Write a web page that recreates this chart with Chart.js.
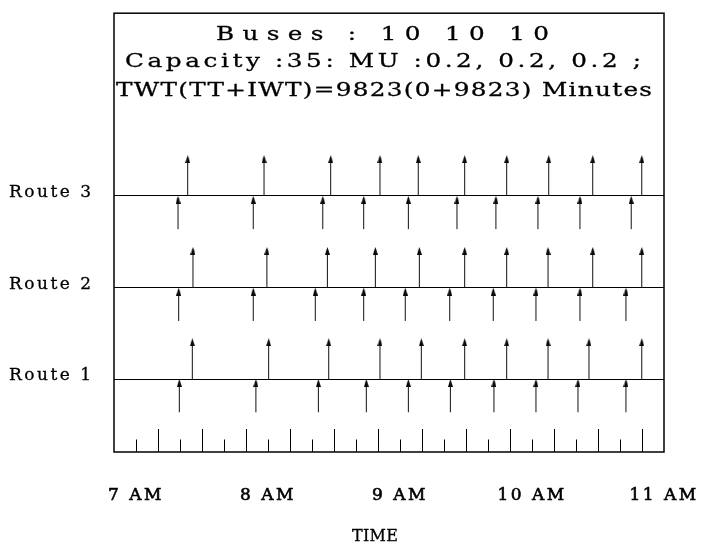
<!DOCTYPE html>
<html>
<head>
<meta charset="utf-8">
<script src="https://cdn.jsdelivr.net/npm/chart.js@4.4.1/dist/chart.umd.min.js"></script>
<style>
  html, body { margin: 0; padding: 0; background: #fff; }
</style>
</head>
<body>
<canvas id="chart" width="702" height="543"></canvas>
<script>
// time axis is in minutes after 7 AM
const hourLabels = ['7 AM', '8 AM', '9 AM', '10 AM', '11 AM'];
const tickMinutes = [0, 10, 20, 30, 40, 50, 60, 70, 80, 90, 100, 110, 120,
                     130, 140, 150, 160, 170, 180, 190, 200, 210, 220, 230, 240];
const routeNames = ['Route 1', 'Route 2', 'Route 3'];
const routeLevels = [73.5, 165.5, 258];
const titleLines = [
    'Buses : 10 10 10',
    'Capacity :35: MU :0.2, 0.2, 0.2 ;',
    'TWT(TT+IWT)=9823(0+9823) Minutes'
];

// arrows above each route line / arrows coming up from below it
const route1Above = [25.6, 60.3, 87.6, 110.9, 129.7, 149.4, 168.5, 187.3, 205.9, 229.9];
const route1Below = [19.7, 54.5, 82.9, 104.7, 123.8, 142.9, 162.7, 181.8, 200.9, 222.7];
const route2Above = [25.9, 59.5, 87.0, 108.8, 128.8, 149.4, 168.5, 187.3, 207.6, 229.9];
const route2Below = [19.4, 53.3, 81.5, 103.5, 122.4, 142.6, 162.4, 181.8, 201.8, 222.7];
const route3Above = [23.5, 58.2, 88.5, 110.9, 128.3, 149.4, 168.5, 187.6, 207.6, 229.9];
const route3Below = [19.1, 53.3, 84.9, 103.5, 123.8, 145.9, 163.6, 182.7, 201.8, 225.1];

const UP_LEN = 41;
const DOWN_LEN = 33.5;
const HEAD_H = 8;

// small narrow arrowhead used as point style
const head = document.createElement('canvas');
head.width = 5;
head.height = HEAD_H;
const hc = head.getContext('2d');
hc.fillStyle = '#000';
hc.beginPath();
hc.moveTo(2.5, 0);
hc.lineTo(5, HEAD_H);
hc.lineTo(0, HEAD_H);
hc.closePath();
hc.fill();

function stems(times, y0, y1) {
    return times.flatMap(t => [{ x: t, y: y0 }, { x: t, y: y1 }, { x: t, y: null }]);
}

const routes = [
    [route1Above, route1Below],
    [route2Above, route2Below],
    [route3Above, route3Below]
];

const datasets = [];
routes.forEach(([above, below], i) => {
    const base = routeLevels[i];
    datasets.push({
        data: stems(above, base, base + UP_LEN - 2).concat(stems(below, base - DOWN_LEN, base - 2)),
        borderColor: '#111',
        borderWidth: 1,
        pointRadius: 0,
        spanGaps: false
    });
    datasets.push({
        data: above.map(t => ({ x: t, y: base + UP_LEN - HEAD_H / 2 }))
            .concat(below.map(t => ({ x: t, y: base - HEAD_H / 2 }))),
        showLine: false,
        pointStyle: head,
        pointRadius: 3
    });
});

const serif = '"DejaVu Serif", serif';

// draws a line of text stretched a bit and spaced to span [left, right]
function fitText(ctx, text, left, right, baseline, size, stretch) {
    ctx.save();
    ctx.font = size + 'px ' + serif;
    ctx.letterSpacing = '0px';
    const w = ctx.measureText(text).width;
    const gap = ((right - left) / stretch - w) / (text.length - 1);
    ctx.letterSpacing = gap + 'px';
    ctx.textAlign = 'left';
    ctx.textBaseline = 'alphabetic';
    ctx.translate(left, baseline);
    ctx.scale(stretch, 1);
    ctx.lineWidth = 0.3;
    ctx.fillText(text, 0, 0);
    ctx.strokeText(text, 0, 0);
    ctx.restore();
}

const framePlugin = {
    id: 'frame',
    beforeDraw(chart) {
        chart.ctx.letterSpacing = '2.5px';
    },
    afterDatasetsDraw(chart) {
        const { ctx, chartArea, scales } = chart;
        const x = scales.x;
        ctx.save();
        ctx.strokeStyle = '#000';
        ctx.lineWidth = 1;
        tickMinutes.forEach(m => {
            if (m >= x.max) return;
            const px = Math.round(x.getPixelForValue(m)) + 0.5;
            const len = (m / 10) % 2 ? 23 : 12.5;
            ctx.beginPath();
            ctx.moveTo(px, chartArea.bottom);
            ctx.lineTo(px, chartArea.bottom - len);
            ctx.stroke();
        });
        ctx.restore();
    },
    afterDraw(chart) {
        const { ctx, chartArea } = chart;
        ctx.save();
        ctx.strokeStyle = '#000';
        ctx.lineWidth = 1.5;
        ctx.strokeRect(chartArea.left, chartArea.top, chartArea.right - chartArea.left,
            chartArea.bottom - chartArea.top);
        ctx.fillStyle = '#000';
        fitText(ctx, titleLines[0], 216, 549, 39.5, 19, 1.3);
        fitText(ctx, titleLines[1], 125, 641, 67, 19, 1.3);
        fitText(ctx, titleLines[2], 116, 652, 96, 19, 1.3);
        fitText(ctx, 'TIME', 352, 398, 541, 16, 1);
        ctx.restore();
        ctx.letterSpacing = '0px';
    }
};

new Chart(document.getElementById('chart'), {
    type: 'line',
    data: { datasets },
    plugins: [framePlugin],
    options: {
        responsive: false,
        animation: false,
        events: [],
        layout: { padding: { left: 9, top: 10, right: 38, bottom: 0 } },
        plugins: {
            legend: { display: false },
            tooltip: { enabled: false }
        },
        scales: {
            x: {
                type: 'linear',
                min: -10,
                max: 240,
                afterBuildTicks: s => { s.ticks = tickMinutes.map(v => ({ value: v })); },
                afterFit: s => { s.height = 91; },
                grid: { display: false, drawTicks: true, tickLength: 30 },
                border: { display: false },
                ticks: {
                    autoSkip: false,
                    maxRotation: 0,
                    padding: 3,
                    color: '#000',
                    textStrokeColor: '#000',
                    textStrokeWidth: 0.6,
                    font: { family: serif, size: 17 },
                    callback: v => (v % 60 === 0 ? hourLabels[v / 60] : '')
                }
            },
            y: {
                min: 0,
                max: 442,
                afterBuildTicks: s => { s.ticks = routeLevels.map(v => ({ value: v })); },
                afterFit: s => { s.width = 105; },
                grid: { color: '#000', lineWidth: 1, drawTicks: false },
                border: { display: false },
                ticks: {
                    crossAlign: 'far',
                    labelOffset: -3,
                    color: '#000',
                    textStrokeColor: '#000',
                    textStrokeWidth: 0.3,
                    font: { family: serif, size: 17 },
                    callback: (v, i) => routeNames[i]
                }
            }
        }
    }
});
</script>
</body>
</html>
